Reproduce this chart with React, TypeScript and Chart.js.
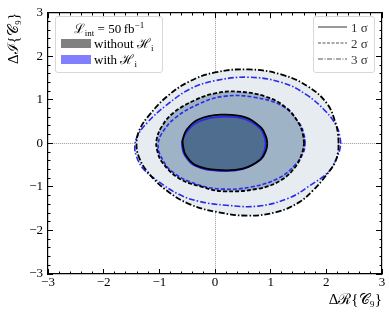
import React, { useEffect, useRef } from "react";
import { Chart, registerables } from "chart.js";

Chart.register(...registerables);

// ---- contour data ----
// 3 sigma, without H_i (black dash-dot)
const black3X = [2.22, 2.21, 2.17, 2.02, 1.68, 1.2, 0.6, 0.0, -0.45, -0.86, -1.2, -1.36, -1.41, -1.37, -1.22, -0.88, -0.45, 0.05, 0.6, 1.1, 1.5, 1.76, 1.98, 2.15, 2.21, 2.22];
const black3Y = [0.0, 0.2, 0.45, 0.9, 1.3, 1.58, 1.7, 1.63, 1.43, 1.08, 0.62, 0.3, 0.0, -0.3, -0.64, -1.07, -1.4, -1.58, -1.66, -1.58, -1.36, -1.08, -0.76, -0.45, -0.2, 0.0];
// 3 sigma, with H_i (blue dash-dot)
const blue3X = [2.26, 2.24, 2.19, 2.0, 1.64, 1.2, 0.6, 0.0, -0.45, -0.89, -1.2, -1.38, -1.44, -1.41, -1.29, -1.01, -0.65, -0.29, 0.2, 0.78, 1.32, 1.68, 2.05, 2.19, 2.24, 2.26];
const blue3Y = [0.0, 0.18, 0.38, 0.72, 1.12, 1.4, 1.52, 1.44, 1.25, 0.86, 0.5, 0.2, -0.05, -0.3, -0.58, -0.88, -1.17, -1.33, -1.42, -1.44, -1.26, -0.99, -0.64, -0.33, -0.15, 0.0];
// 2 sigma, without H_i (black dashed)
const black2X = [1.6, 1.58, 1.51, 1.28, 0.9, 0.4, 0.0, -0.35, -0.75, -0.96, -1.05, -1.04, -0.95, -0.65, -0.23, 0.15, 0.78, 1.18, 1.45, 1.57, 1.6];
const black2Y = [0.0, 0.2, 0.45, 0.82, 1.08, 1.19, 1.15, 1.0, 0.7, 0.38, 0.08, -0.15, -0.43, -0.8, -1.0, -1.1, -1.04, -0.85, -0.53, -0.2, 0.0];
// 2 sigma, with H_i (blue dashed)
const blue2X = [1.62, 1.6, 1.52, 1.22, 0.7, 0.15, -0.3, -0.72, -0.96, -1.02, -0.99, -0.77, -0.3, 0.15, 0.65, 1.14, 1.45, 1.59, 1.62];
const blue2Y = [0.0, 0.2, 0.45, 0.85, 1.06, 1.08, 0.9, 0.58, 0.22, -0.02, -0.25, -0.65, -0.95, -1.05, -1.0, -0.8, -0.48, -0.2, 0.0];
// 1 sigma, without H_i (black solid)
const black1X = [0.94, 0.92, 0.83, 0.55, 0.1, -0.3, -0.5, -0.58, -0.57, -0.53, -0.35, 0.05, 0.5, 0.82, 0.92, 0.94];
const black1Y = [0.0, 0.14, 0.36, 0.6, 0.66, 0.55, 0.33, 0.08, -0.08, -0.26, -0.5, -0.61, -0.58, -0.37, -0.15, 0.0];
// 1 sigma, with H_i (blue solid)
const blue1X = [0.91, 0.89, 0.81, 0.53, 0.1, -0.28, -0.49, -0.59, -0.59, -0.55, -0.37, 0.05, 0.5, 0.8, 0.89, 0.91];
const blue1Y = [0.0, 0.14, 0.34, 0.56, 0.61, 0.51, 0.3, 0.06, -0.08, -0.26, -0.51, -0.63, -0.59, -0.38, -0.15, 0.0];

const axisMin = -3;
const axisMax = 3;
const majorStep = 1;
const minorStep = 0.2;

const SERIF = "'Liberation Serif', 'DejaVu Serif', serif";
const BLUE = "#2a2aea";

function pts(xs: number[], ys: number[]) {
  return xs.map((x, i) => ({ x, y: ys[i] }));
}

function fmt(v: number) {
  return String(v).replace("-", "\u2212");
}

export default function App() {
  const ref = useRef<HTMLCanvasElement>(null);

  useEffect(() => {
    const fillDs = (xs: number[], ys: number[], color: string, order: number) => ({
      data: pts(xs, ys),
      showLine: true,
      fill: "shape",
      backgroundColor: color,
      borderColor: "rgba(0,0,0,0)",
      borderWidth: 0,
      pointRadius: 0,
      tension: 0.4,
      order,
      xAxisID: "x",
      yAxisID: "y",
    });
    const lineDs = (xs: number[], ys: number[], color: string, dash: number[], width: number, order: number) => ({
      data: pts(xs, ys),
      showLine: true,
      fill: false,
      borderColor: color,
      borderWidth: width,
      borderDash: dash,
      pointRadius: 0,
      tension: 0.4,
      order,
      xAxisID: "x",
      yAxisID: "y",
    });

    const tickAxis = (axis: string, position: any, step: number, len: number, border: boolean) => ({
      type: "linear",
      axis,
      position,
      min: axisMin,
      max: axisMax,
      ticks: { display: false, stepSize: step, maxTicksLimit: 100, autoSkip: false },
      grid: { display: true, drawOnChartArea: false, drawTicks: true, tickLength: len, tickColor: "#000", tickWidth: 1 },
      border: { display: border, color: "#000", width: 1.2 },
    });

    const zeroGrid = (ctx: any) => (ctx.tick && ctx.tick.value === 0 ? "rgba(110,110,110,0.7)" : "rgba(0,0,0,0)");

    const chart = new Chart(ref.current as HTMLCanvasElement, {
      type: "scatter",
      data: {
        datasets: [
          fillDs(black3X, black3Y, "#e7ecf1", 30),
          fillDs(blue3X, blue3Y, "#e7ecf1", 29),
          fillDs(black2X, black2Y, "#9fb3c7", 28),
          fillDs(blue2X, blue2Y, "#9fb3c7", 27),
          fillDs(black1X, black1Y, "#4e6d8f", 26),
          lineDs(blue3X, blue3Y, BLUE, [6, 2, 1.5, 2], 1.6, 8),
          lineDs(black3X, black3Y, "#000", [6, 2, 1.5, 2], 1.8, 7),
          lineDs(blue2X, blue2Y, BLUE, [4, 2], 1.6, 6),
          lineDs(black2X, black2Y, "#000", [4, 2], 1.8, 5),
          lineDs(blue1X, blue1Y, BLUE, [], 1.7, 4),
          lineDs(black1X, black1Y, "#000", [], 1.8, 3),
        ] as any,
      },
      options: {
        animation: false,
        responsive: false,
        devicePixelRatio: 1,
        layout: { padding: { top: 9, right: 7, left: 0, bottom: 0 } },
        plugins: { legend: { display: false }, tooltip: { enabled: false } },
        scales: {
          x: {
            type: "linear",
            position: "bottom",
            min: axisMin,
            max: axisMax,
            z: 1,
            afterFit: (s: any) => {
              s.height = 43;
            },
            ticks: {
              stepSize: majorStep,
              color: "#000",
              padding: 1,
              font: { family: SERIF, size: 13 },
              callback: (v: any) => fmt(v),
            },
            grid: { drawTicks: false, drawOnChartArea: true, color: zeroGrid, lineWidth: 1 },
            border: { display: true, color: "#000", width: 1.2, dash: [1, 1] },
            title: {
              display: true,
              text: "\u0394\u211B{\uD835\uDC9E\u2089}",
              align: "end",
              color: "#000",
              font: { family: SERIF, size: 15 },
              padding: { top: 0, bottom: 8 },
            },
          },
          y: {
            type: "linear",
            position: "left",
            min: axisMin,
            max: axisMax,
            z: 1,
            afterFit: (s: any) => {
              s.width = 48;
            },
            ticks: {
              stepSize: majorStep,
              color: "#000",
              padding: 5,
              font: { family: SERIF, size: 13 },
              callback: (v: any) => fmt(v),
            },
            grid: { drawTicks: false, drawOnChartArea: true, color: zeroGrid, lineWidth: 1 },
            border: { display: true, color: "#000", width: 1.2, dash: [1, 1] },
            title: {
              display: true,
              text: "\u0394\u2110{\uD835\uDC9E\u2089}",
              align: "end",
              color: "#000",
              font: { family: SERIF, size: 15 },
              padding: { top: 5, bottom: 0 },
            },
          },
          xb1: tickAxis("x", { y: -3 }, majorStep, -5, false),
          xb2: tickAxis("x", { y: -3 }, minorStep, -2.5, false),
          xt1: tickAxis("x", { y: 3 }, majorStep, 5, true),
          xt2: tickAxis("x", { y: 3 }, minorStep, 2.5, false),
          yl1: tickAxis("y", { x: -3 }, majorStep, -5, false),
          yl2: tickAxis("y", { x: -3 }, minorStep, -2.5, false),
          yr1: tickAxis("y", { x: 3 }, majorStep, 5, true),
          yr2: tickAxis("y", { x: 3 }, minorStep, 2.5, false),
        } as any,
      },
    });
    return () => chart.destroy();
  }, []);

  const boxStyle: React.CSSProperties = {
    position: "absolute",
    boxSizing: "border-box",
    border: "1px solid #d8d8d8",
    borderRadius: 3,
    background: "rgba(255,255,255,0.85)",
    fontFamily: SERIF,
    fontSize: 13,
    color: "#000",
    lineHeight: "1",
  };
  const abs = (left: number, top: number): React.CSSProperties => ({ position: "absolute", left, top, whiteSpace: "nowrap" });
  const sub: React.CSSProperties = { fontSize: 9, position: "relative", top: 3 };
  const sup: React.CSSProperties = { fontSize: 9, position: "relative", top: -5 };

  const lineSample = (top: number, dash: string) => (
    <svg style={{ position: "absolute", left: 4, top: top - 2, overflow: "visible" }} width={30} height={4}>
      <line x1={0} y1={2} x2={29} y2={2} stroke="#555" strokeWidth={1.2} strokeDasharray={dash} />
    </svg>
  );

  return (
    <div style={{ position: "fixed", left: 0, top: 0, width: 389, height: 317, background: "#fff" }}>
      <canvas ref={ref} width={389} height={317} style={{ position: "absolute", left: 0, top: 0 }} />
      <div style={{ ...boxStyle, left: 55, top: 16, width: 108, height: 57 }}>
        <div style={{ ...abs(0, 5), width: 106, textAlign: "center" }}>
          <span>{"\u2112"}</span>
          <span style={sub}>int</span>
          <span>{" = 50\u2009fb"}</span>
          <span style={sup}>{"\u22121"}</span>
        </div>
        <div style={{ position: "absolute", left: 5, top: 22, width: 30, height: 9, background: "#808080" }} />
        <div style={abs(38, 20)}>
          without {"\u210B"}
          <span style={sub}>i</span>
        </div>
        <div style={{ position: "absolute", left: 5, top: 38, width: 30, height: 9, background: "#8080ff" }} />
        <div style={abs(38, 36)}>
          with {"\u210B"}
          <span style={sub}>i</span>
        </div>
      </div>
      <div style={{ ...boxStyle, left: 313, top: 16, width: 62, height: 57, color: "#333" }}>
        {lineSample(10, "")}
        <div style={abs(37, 4)}>1 {"\u03C3"}</div>
        {lineSample(26, "3,1.5")}
        <div style={abs(37, 20)}>2 {"\u03C3"}</div>
        {lineSample(42, "5,1.5,1,1.5")}
        <div style={abs(37, 36)}>3 {"\u03C3"}</div>
      </div>
    </div>
  );
}
